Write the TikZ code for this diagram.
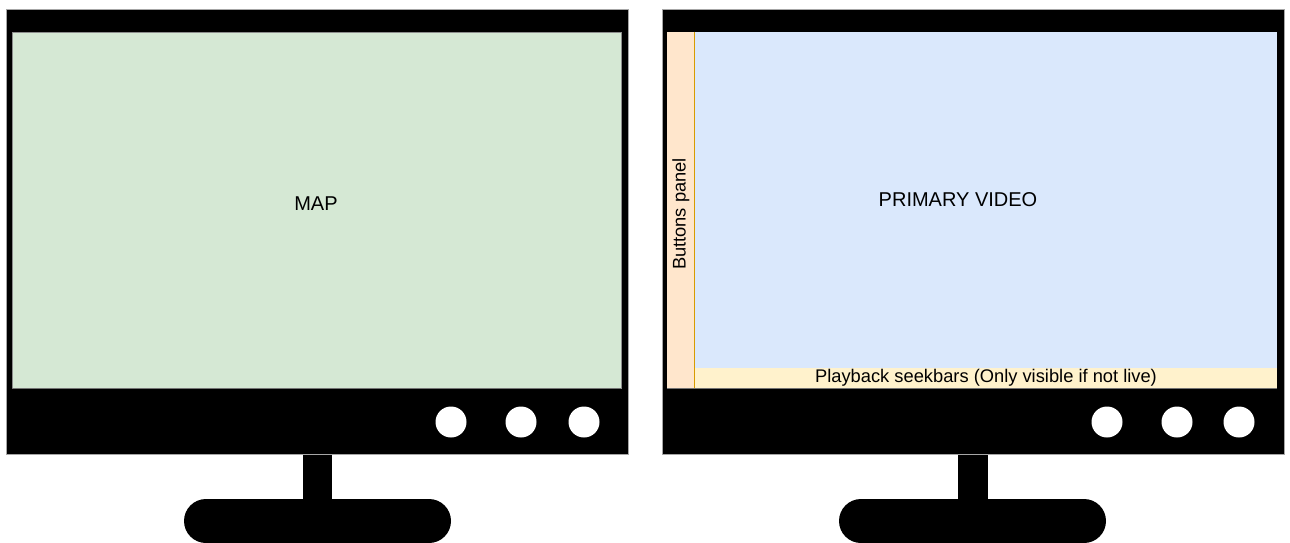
\documentclass[tikz,border=0pt]{standalone}
\usepackage{fontspec}
\setmainfont{Liberation Sans}
\definecolor{mapgreen}{HTML}{D5E8D4}
\definecolor{vidblue}{HTML}{DAE8FC}
\definecolor{panelpeach}{HTML}{FFE6CC}
\definecolor{seekyellow}{HTML}{FFF2CC}
\definecolor{panelorange}{HTML}{D79B00}
\begin{document}
\begin{tikzpicture}[x=1pt,y=-1pt,
  frame/.style={fill=black,draw=black!35,line width=0.8pt},
  scr/.style={draw=black!45,line width=0.5pt},
  edge/.style={draw=black!55,line width=0.7pt},
  knob/.style={circle,fill=white,draw=none,minimum size=31pt,inner sep=0pt},
  lbl/.style={font=\fontsize{20}{24}\selectfont,inner sep=0pt},
  small/.style={font=\fontsize{18.3}{21}\selectfont,inner sep=0pt}]
\useasboundingbox[fill=white] (0,0) rectangle (1290,543);
% ---- left monitor ----
\fill (303,452) rectangle (332,501);
\fill[rounded corners=22pt] (184,499) rectangle (451,543);
\draw[frame] (6,9) rectangle (628,454);
\draw[scr,fill=mapgreen] (12,32) rectangle (621,388);
\draw[edge] (12,388) -- (621,388);
\node[lbl] (map) at (316,204) {MAP};
\node[knob] (l1) at (451,422) {};
\node[knob] (l2) at (521,422) {};
\node[knob] (l3) at (584,422) {};
% ---- right monitor ----
\fill (958,452) rectangle (988,501);
\fill[rounded corners=22pt] (839,499) rectangle (1106,543);
\draw[frame] (662,9) rectangle (1284,454);
\fill[vidblue] (694,32) rectangle (1277,368);
\fill[seekyellow] (694,368) rectangle (1277,388);
\fill[panelpeach] (667,32) rectangle (694,388);
\draw[edge] (667,388) -- (1277,388);
\draw[panelorange,line width=0.8pt] (694,32) -- (694,388);
\node[lbl] (video) at (958,200) {PRIMARY VIDEO};
\node[small,rotate=90] (panel) at (681,214) {Buttons panel};
\node[small] (seek) at (986,378) {Playback seekbars (Only visible if not live)};
\node[knob] (r1) at (1107,422) {};
\node[knob] (r2) at (1177,422) {};
\node[knob] (r3) at (1239,422) {};
\end{tikzpicture}
\end{document}
